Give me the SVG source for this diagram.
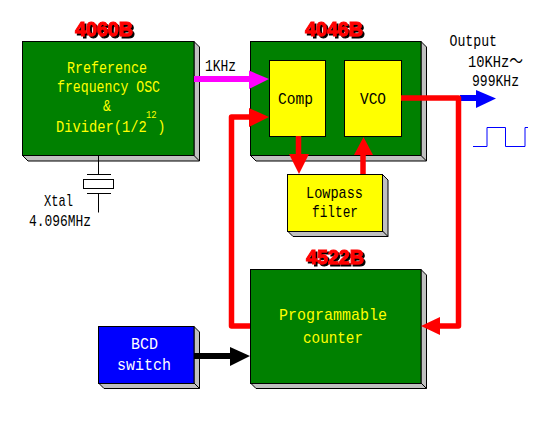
<svg xmlns="http://www.w3.org/2000/svg" width="556" height="424" viewBox="0 0 556 424">
<style>
text{font-family:"Liberation Mono","Noto Sans CJK JP",monospace;font-size:17px;fill:#000}
.y{fill:#ff0}.w{fill:#fff}
.t{font-family:"Liberation Sans",sans-serif;font-weight:bold;font-size:21px;fill:#f00;stroke:#f00;stroke-width:1;filter:url(#ds)}
.box{stroke:#000;stroke-width:1}
.g{fill:#008000}.ye{fill:#ff0}.b{fill:#00f}
.sh{fill:#c0c0c0;stroke:#000;stroke-width:1}
.red{fill:none;stroke:#f00;stroke-width:5.500;stroke-linejoin:round}
.thin{fill:none;stroke:#000;stroke-width:1}
</style>
<defs>
<filter id="ds" x="-10%" y="-10%" width="120%" height="130%"><feDropShadow dx="2" dy="2" stdDeviation="0" flood-color="#000"/></filter>
</defs>
<g id="node-4060B">
<path class="sh" d="M194 41.500L199.500 47V161H28L22.500 155.500H194Z"/><path class="thin" d="M194 155.500L199.500 161"/>
<rect class="box g" x="22.500" y="41.500" width="171.500" height="114"/>
<text class="t" x="75" y="36" textLength="58" lengthAdjust="spacingAndGlyphs">4060B</text>
<text class="y" x="67" y="73" textLength="80" lengthAdjust="spacingAndGlyphs">Rreference</text>
<text class="y" x="57" y="92" textLength="103" lengthAdjust="spacingAndGlyphs">frequency OSC</text>
<text class="y" x="103" y="111" textLength="8" lengthAdjust="spacingAndGlyphs">&amp;</text>
<text class="y" transform="translate(56 132) scale(.81 1)" x="0" y="0">Divider(1/2<tspan x="111" dy="-14" style="font-size:11px">12</tspan><tspan x="125" dy="14">)</tspan></text>
</g>
<g id="node-xtal">
<path class="thin" d="M98.500 155.500V174.500M87 174.500H111M87 193.500H111M98.500 193.500V212.500"/>
<rect x="83.500" y="179.500" width="30" height="9" fill="#fff" stroke="#000"/>
<text x="44" y="206" textLength="29" lengthAdjust="spacingAndGlyphs">Xtal</text>
<text x="29" y="226" textLength="62" lengthAdjust="spacingAndGlyphs">4.096MHz</text>
</g>
<g id="node-4046B">
<path class="sh" d="M421 41.500L426.500 47V161H256L250.500 155.500H421Z"/><path class="thin" d="M421 155.500L426.500 161"/>
<rect class="box g" x="250.500" y="41.500" width="170.500" height="114"/>
<text class="t" x="305" y="36" textLength="58" lengthAdjust="spacingAndGlyphs">4046B</text>
</g>
<g id="node-comp">
<rect class="box ye" x="269.500" y="60.500" width="56" height="76"/>
<text x="278" y="104" textLength="35" lengthAdjust="spacingAndGlyphs">Comp</text>
</g>
<g id="node-vco">
<rect class="box ye" x="344.500" y="60.500" width="57" height="76"/>
<text x="360" y="104" textLength="26" lengthAdjust="spacingAndGlyphs">VCO</text>
</g>
<g id="node-lowpass">
<path class="sh" d="M382.500 174.500L388 180V236.500H293L287.500 231H382.500Z"/><path class="thin" d="M382.500 231L388 236.500"/>
<rect class="box ye" x="287.500" y="174.500" width="95" height="57"/>
<text x="306" y="198" textLength="57" lengthAdjust="spacingAndGlyphs">Lowpass</text>
<text x="312" y="217" textLength="46" lengthAdjust="spacingAndGlyphs">filter</text>
</g>
<g id="node-4522B">
<path class="sh" d="M421 269.500L426.500 275V388.500H256L250.500 383H421Z"/><path class="thin" d="M421 383L426.500 388.500"/>
<rect class="box g" x="250.500" y="269.500" width="170.500" height="114"/>
<text class="t" x="306" y="264" textLength="58" lengthAdjust="spacingAndGlyphs">4522B</text>
<text class="y" x="279" y="320" textLength="108" lengthAdjust="spacingAndGlyphs">Programmable</text>
<text class="y" x="303" y="343" textLength="60" lengthAdjust="spacingAndGlyphs">counter</text>
</g>
<g id="node-bcd">
<path class="sh" d="M194 326.500L199.500 332V388.500H104L98.500 383H194Z"/><path class="thin" d="M194 383L199.500 388.500"/>
<rect class="box b" x="98.500" y="326.500" width="95.500" height="57"/>
<text class="w" x="131" y="349" textLength="27" lengthAdjust="spacingAndGlyphs">BCD</text>
<text class="w" x="117" y="370" textLength="54" lengthAdjust="spacingAndGlyphs">switch</text>
</g>
<g id="connectors">
<rect x="194" y="76" width="56" height="6" fill="#f0f"/>
<polygon points="249,70.500 269,79 249,89" fill="#f0f"/>
<path class="red" d="M250 326H231.500V117H250"/>
<polygon points="249,108 269,117 249,127" fill="#f00"/>
<path class="red" d="M298.500 136V156"/>
<polygon points="289,154 309,154 299,174" fill="#f00"/>
<path class="red" d="M363 174V154"/>
<polygon points="354,155 373,155 363.500,137" fill="#f00"/>
<rect x="460" y="95" width="17" height="6" fill="#00f"/>
<polygon points="476,90 496,98.500 476,108" fill="#00f"/>
<path class="red" d="M401 98H458.500V326H439"/>
<polygon points="440,317 421,326 440,335" fill="#f00"/>
<rect x="194" y="353" width="37" height="6" fill="#000"/>
<polygon points="230,347 250,356 230,366" fill="#000"/>
</g>
<g id="node-output">
<text x="449.500" y="46" textLength="47.500" lengthAdjust="spacingAndGlyphs">Output</text>
<text x="468" y="67" textLength="55" lengthAdjust="spacingAndGlyphs">10KHz〜</text>
<text x="472" y="86" textLength="47" lengthAdjust="spacingAndGlyphs">999KHz</text>
<path d="M473 146.500H487V127.500H505.500V146.500H525V127.500H528" fill="none" stroke="#00f"/>
</g>
<text x="205" y="71" textLength="31" lengthAdjust="spacingAndGlyphs">1KHz</text>
</svg>
